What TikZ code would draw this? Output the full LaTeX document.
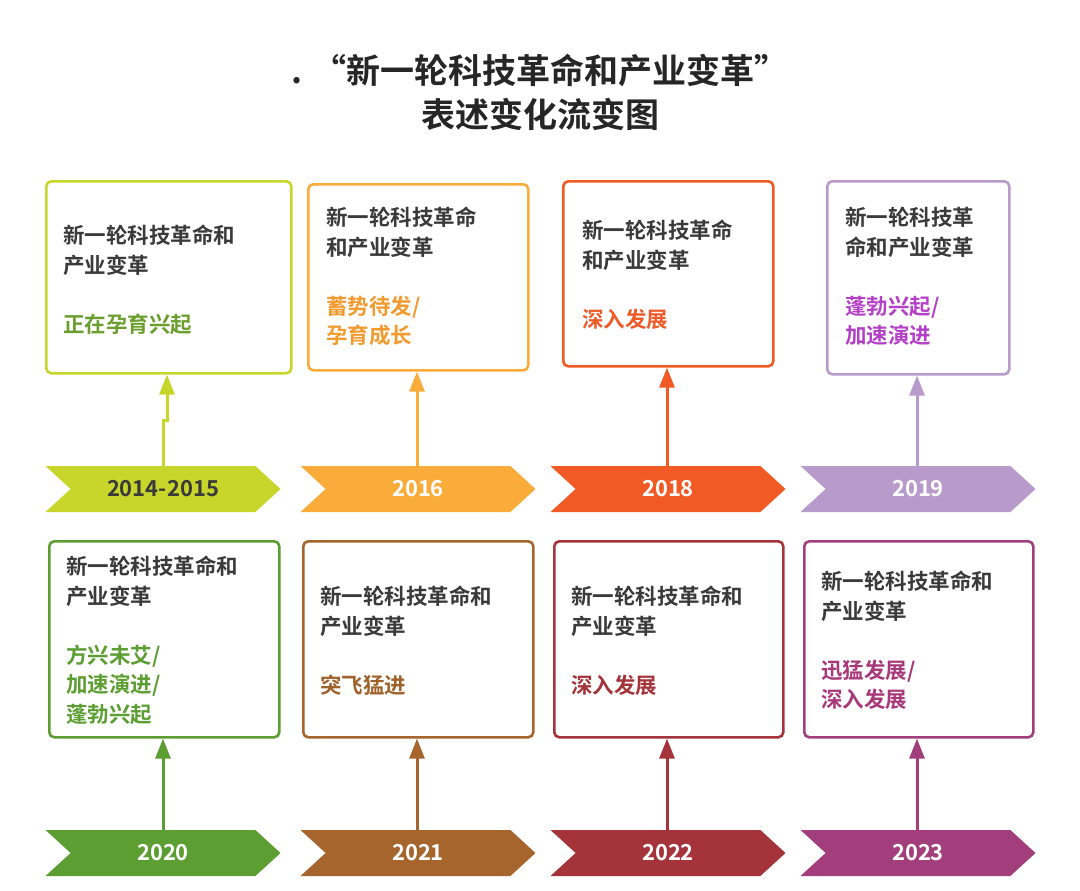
\documentclass[tikz,border=0pt]{standalone}
\usepackage{fontspec}
\setmainfont{Noto Sans CJK SC Bold}
\usetikzlibrary{shapes.symbols,arrows.meta}
\definecolor{cA}{HTML}{C8D62B}\definecolor{tA}{HTML}{6B9E2E}
\definecolor{cB}{HTML}{F9AC3A}\definecolor{tB}{HTML}{F29A2E}
\definecolor{cC}{HTML}{F15A24}\definecolor{tC}{HTML}{EE5A28}
\definecolor{cD}{HTML}{B99BCB}\definecolor{tD}{HTML}{B540C8}
\definecolor{cE}{HTML}{5C9E31}\definecolor{tE}{HTML}{5C9E31}
\definecolor{cF}{HTML}{A5652D}\definecolor{tF}{HTML}{A0622B}
\definecolor{cG}{HTML}{A4343A}\definecolor{tG}{HTML}{A4343A}
\definecolor{cH}{HTML}{A23E7C}\definecolor{tH}{HTML}{A8387A}
\definecolor{ink}{HTML}{3A3A3A}
\begin{document}
\begin{tikzpicture}[x=1pt,y=-1pt,
  box/.style={draw=#1,line width=2.6pt,rounded corners=5pt,anchor=north west,inner sep=0pt},
  chev/.style={signal,signal from=west,signal to=east,signal pointer angle=85,fill=#1,draw=none,
     minimum width=235pt,minimum height=46pt,inner sep=0pt,anchor=center,font=\fontsize{22}{24}\selectfont,text=white},
  txt/.style={anchor=north west,inner sep=0pt,align=left,text=ink,font=\fontsize{21.5}{29.5}\selectfont},
  arr/.style={draw=#1,line width=3pt,-{Triangle[width=15pt,length=20pt]}}]
\useasboundingbox (0,0) rectangle (1080,891);
\fill[white] (0,0) rectangle (1080,891);
\node[font=\fontsize{34}{44}\selectfont,text=black!85,align=center] (title) at (540,92) {. “新一轮科技革命和产业变革”\\表述变化流变图};
% row 1 boxes
\node[box=cA,minimum width=245pt,minimum height=192pt] (b1) at (45,180) {};
\node[box=cB,minimum width=220pt,minimum height=186pt] (b2) at (307,183) {};
\node[box=cC,minimum width=210pt,minimum height=185pt] (b3) at (562,180) {};
\node[box=cD,minimum width=182pt,minimum height=193pt] (b4) at (826,180) {};
\node[txt] (t1) at (63,225) {新一轮科技革命和\\产业变革\\[29.5pt]\textcolor{tA}{正在孕育兴起}};
\node[txt] (t2) at (326,207) {新一轮科技革命\\和产业变革\\[29.5pt]\textcolor{tB}{蓄势待发/}\\\textcolor{tB}{孕育成长}};
\node[txt] (t3) at (582,220) {新一轮科技革命\\和产业变革\\[29.5pt]\textcolor{tC}{深入发展}};
\node[txt] (t4) at (845,207) {新一轮科技革\\命和产业变革\\[29.5pt]\textcolor{tD}{蓬勃兴起/}\\\textcolor{tD}{加速演进}};
% row 2 boxes
\node[box=cE,minimum width=230pt,minimum height=196pt] (b5) at (48,540) {};
\node[box=cF,minimum width=230pt,minimum height=196pt] (b6) at (302,540) {};
\node[box=cG,minimum width=229pt,minimum height=196pt] (b7) at (553,540) {};
\node[box=cH,minimum width=229pt,minimum height=196pt] (b8) at (803,540) {};
\node[txt] (t5) at (66,556) {新一轮科技革命和\\产业变革\\[29.5pt]\textcolor{tE}{方兴未艾/}\\\textcolor{tE}{加速演进/}\\\textcolor{tE}{蓬勃兴起}};
\node[txt] (t6) at (320,586) {新一轮科技革命和\\产业变革\\[29.5pt]\textcolor{tF}{突飞猛进}};
\node[txt] (t7) at (571,586) {新一轮科技革命和\\产业变革\\[29.5pt]\textcolor{tG}{深入发展}};
\node[txt] (t8) at (821,571) {新一轮科技革命和\\产业变革\\[29.5pt]\textcolor{tH}{迅猛发展/}\\\textcolor{tH}{深入发展}};
% chevrons
\node[chev=cA,text=ink] (c1) at (163,489) {2014-2015};
\node[chev=cB] (c2) at (418,489) {2016};
\node[chev=cC] (c3) at (668,489) {2018};
\node[chev=cD] (c4) at (918,489) {2019};
\node[chev=cE] (c5) at (163,853) {2020};
\node[chev=cF] (c6) at (418,853) {2021};
\node[chev=cG] (c7) at (668,853) {2022};
\node[chev=cH] (c8) at (918,853) {2023};
% arrows
\coordinate (j1) at (163,420); \coordinate (j2) at (167,416);
\draw[draw=cA,line width=3pt] (c1.north -| j1) -- (j1) -- (j1 -| j2) -- (j2);
\draw[arr=cA] (j2) -- (j2 |- b1.south);
\draw[arr=cB] (c2.north -| 417,0) -- (b2.south -| 417,0);
\draw[arr=cC] (c3.north -| 667,0) -- (b3.south -| 667,0);
\draw[arr=cD] (c4.north -| 917,0) -- (b4.south -| 917,0);
\draw[arr=cE] (c5.north -| 163,0) -- (b5.south -| 163,0);
\draw[arr=cF] (c6.north -| 417,0) -- (b6.south -| 417,0);
\draw[arr=cG] (c7.north -| 667,0) -- (b7.south -| 667,0);
\draw[arr=cH] (c8.north -| 917,0) -- (b8.south -| 917,0);
\end{tikzpicture}
\end{document}
